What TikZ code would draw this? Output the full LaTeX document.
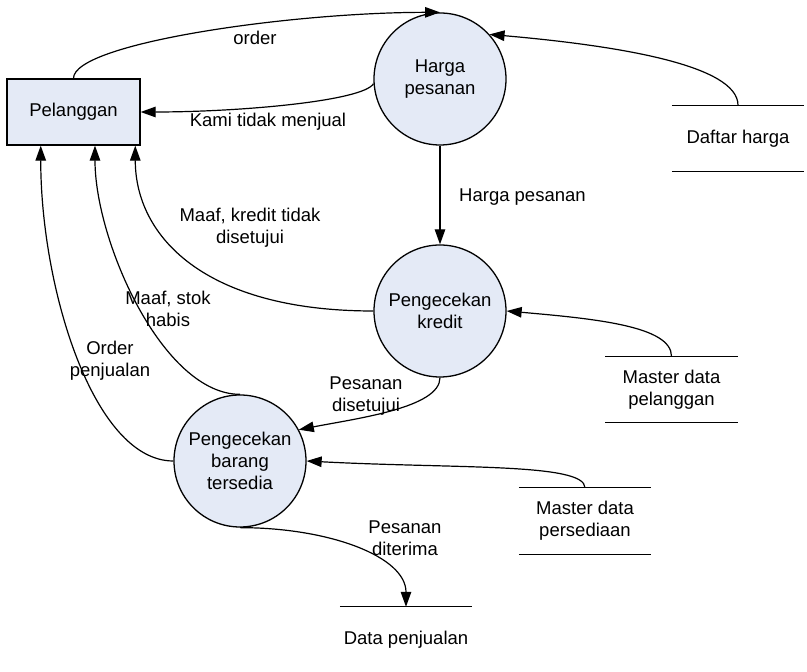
\documentclass[tikz,border=0pt]{standalone}
\usepackage{fontspec}
\setmainfont{Liberation Sans}
\usetikzlibrary{arrows.meta,calc}
\definecolor{procfill}{RGB}{228,234,246}
\begin{document}
\begin{tikzpicture}[x=1pt,y=1pt,
  every node/.style={font=\fontsize{18.5}{22}\selectfont},
  proc/.style={circle,draw,fill=procfill,line width=1.3pt,minimum size=132pt,inner sep=0pt,align=center},
  entity/.style={rectangle,draw,fill=procfill,line width=1.3pt,minimum width=133pt,minimum height=66pt,inner sep=0pt},
  store/.style={rectangle,minimum width=132pt,minimum height=66pt,inner sep=0pt,align=center},
  storeline/.style={line width=1.3pt},
  flow/.style={line width=1.2pt,-{Triangle[length=15pt,width=10.5pt]}},
  lbl/.style={align=center,inner sep=0pt}
]
\useasboundingbox (0,0) rectangle (807,672);

% external entity
\node[entity] (pel) at (73.5,560) {Pelanggan};

% processes
\node[proc] (hp) at (440,593) {Harga\\pesanan};
\node[proc] (kr) at (440,361) {Pengecekan\\kredit};
\node[proc] (bt) at (240,211) {Pengecekan\\barang\\tersedia};

% data stores
\node[store] (dh)  at (738,533.5) {Daftar harga};
\node[store] (mdp) at (671.5,282.5) {Master data\\pelanggan};
\node[store] (mps) at (585,151) {Master data\\persediaan};
\node[store] (dp)  at (406,32) {Data penjualan};
\draw[storeline] (dh.north west) -- (dh.north east) (dh.south west) -- (dh.south east);
\draw[storeline] (mdp.north west) -- (mdp.north east) (mdp.south west) -- (mdp.south east);
\draw[storeline] (mps.north west) -- (mps.north east) (mps.south west) -- (mps.south east);
\draw[storeline] (dp.north west) -- (dp.north east);

% data flows
\draw[flow] (pel.north) to[out=90,in=180,out distance=35,in distance=150] (hp.north);
\draw[flow] (hp.184) to[out=240,in=0,out distance=20,in distance=100] (pel.east);
\draw[flow] (dh.north) to[out=90,in=-5,out distance=40,in distance=130] (hp.42);
\draw[flow] (hp.south) -- (kr.north);
\draw[flow] (mdp.north) to[out=90,in=-5,out distance=30,in distance=90] (kr.east);
\draw[flow] (kr.west) to[out=180,in=270,out distance=170,in distance=90]
  ($(pel.south west)!0.96!(pel.south east)$);
\draw[flow] (bt.north) to[out=180,in=270,out distance=77,in distance=96]
  ($(pel.south west)!0.66!(pel.south east)$);
\draw[flow] (bt.west) to[out=180,in=270,out distance=80,in distance=142]
  ($(pel.south west)!0.256!(pel.south east)$);
\draw[flow] (kr.south) to[out=270,in=11,out distance=30,in distance=60] (bt.28);
\draw[flow] (mps.north) to[out=90,in=-3,out distance=25,in distance=150] (bt.east);
\draw[flow] (bt.south) to[out=0,in=90,out distance=90,in distance=50] (dp.north);

% flow labels
\node[lbl] (l1) at (255,634) {order};
\node[lbl] (l2) at (268,550) {Kami tidak menjual};
\node[lbl,anchor=west] (l3) at (459,475) {Harga pesanan};
\node[lbl] (l4) at (250,444) {Maaf, kredit tidak\\disetujui};
\node[lbl] (l5) at (168,363) {Maaf, stok\\habis};
\node[lbl] (l6) at (110,311) {Order\\penjualan};
\node[lbl] (l7) at (366,276) {Pesanan\\disetujui};
\node[lbl] (l8) at (405,134) {Pesanan\\diterima};
\end{tikzpicture}
\end{document}
